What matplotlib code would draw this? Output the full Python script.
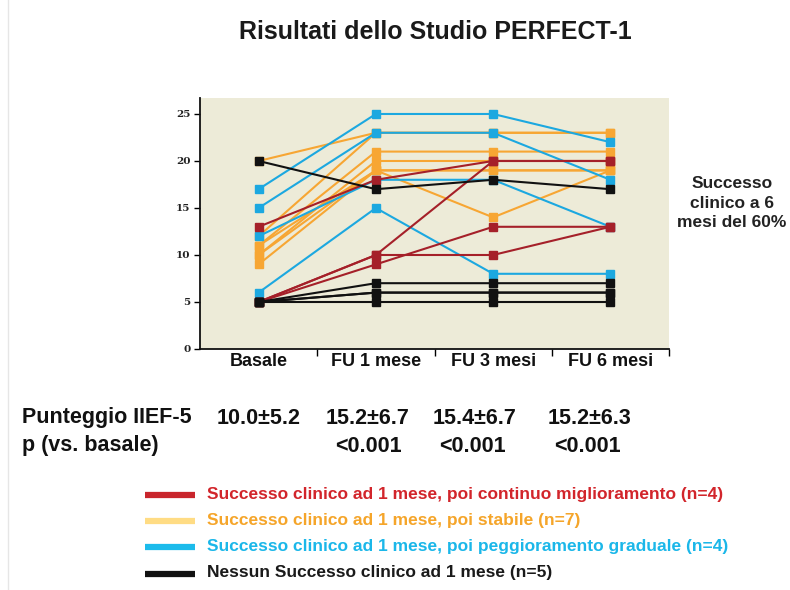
import matplotlib
matplotlib.use("Agg")
import matplotlib.pyplot as plt
from matplotlib.lines import Line2D

W, H = 790, 590

categories = ["Basale", "FU 1 mese", "FU 3 mesi", "FU 6 mesi"]
yticks = [0, 5, 10, 15, 20, 25]

red_series = [[13, 18, 20, 20], [5, 10, 20, 20], [5, 9, 13, 13], [5, 10, 10, 13]]
orange_series = [[20, 23, 23, 23], [11, 21, 21, 21], [10, 20, 20, 20], [10, 19, 19, 19],
                 [9, 19, 14, 19], [12, 23, 23, 23], [11, 19, 19, 19]]
blue_series = [[17, 25, 25, 22], [15, 23, 23, 18], [12, 18, 18, 13], [6, 15, 8, 8]]
black_series = [[20, 17, 18, 17], [5, 7, 7, 7], [5, 6, 6, 6], [5, 5, 5, 5], [5, 6, 6, 6]]

score_row_label = "Punteggio IIEF-5"
score_values = ["10.0±5.2", "15.2±6.7", "15.4±6.7", "15.2±6.3"]
p_row_label = "p (vs. basale)"
p_values = ["", "<0.001", "<0.001", "<0.001"]

legend_labels = [
    "Successo clinico ad 1 mese, poi continuo miglioramento (n=4)",
    "Successo clinico ad 1 mese, poi stabile (n=7)",
    "Successo clinico ad 1 mese, poi peggioramento graduale (n=4)",
    "Nessun Successo clinico ad 1 mese (n=5)",
]

title = "Risultati dello Studio PERFECT-1"
side_note = "Successo\nclinico a 6\nmesi del 60%"

plot_colors = ["#A52029", "#F7A633", "#1CA8E0", "#111111"]
legend_line_colors = ["#C9252C", "#FFDC84", "#1CBBEB", "#111111"]
legend_text_colors = ["#D2252B", "#F5A52A", "#1BB7E9", "#1A1A1A"]

SANS = ["Liberation Sans", "DejaVu Sans"]


def fx(x):
    return x / W


def fy(y):
    return 1 - y / H


fig = plt.figure(figsize=(W / 100, H / 100), dpi=100)
fig.patch.set_facecolor("white")

ax = fig.add_axes([fx(200), fy(349), (669 - 200) / W, (349 - 98) / H])
ax.set_facecolor("#EDEBD8")
ax.set_xlim(-0.5, 3.5)
ax.set_ylim(0, 26.7)
for s in ["top", "right"]:
    ax.spines[s].set_visible(False)
for s in ["left", "bottom"]:
    ax.spines[s].set_linewidth(1.3)
    ax.spines[s].set_color("#111111")

xs = list(range(len(categories)))
groups = [orange_series, blue_series, red_series, black_series]
group_colors = [plot_colors[1], plot_colors[2], plot_colors[0], plot_colors[3]]
for series, col in zip(groups, group_colors):
    for vals in series:
        ax.plot(xs, vals, color=col, lw=1.5, marker="s", ms=5.5,
                mec=col, mfc=col, solid_joinstyle="round", zorder=3)

ax.set_yticks(yticks)
ax.set_yticklabels([str(v) for v in yticks], fontsize=7.5, family="DejaVu Serif",
                   fontweight="bold", color="#222222")
ax.tick_params(axis="y", length=4, width=1, direction="out", pad=3)

ax.set_xticks([0.5, 1.5, 2.5, 3.5])
ax.set_xticklabels([])
ax.tick_params(axis="x", which="major", length=5, width=1, direction="out")
ax.set_xticks(xs, minor=True)
ax.set_xticklabels(categories, minor=True, fontsize=13, fontweight="bold",
                   family=SANS, color="#111111")
ax.tick_params(axis="x", which="minor", length=0, pad=3)

fig.text(fx(435), fy(32), title, ha="center", va="center", fontsize=18,
         fontweight="bold", family=SANS, color="#1A1A1A")

fig.text(fx(732), fy(203), side_note, ha="center", va="center", fontsize=12.5,
         fontweight="bold", family=SANS, color="#222222", linespacing=1.4)

fig.text(fx(22), fy(418), score_row_label, ha="left", va="center", fontsize=15.5,
         fontweight="bold", family=SANS, color="#111111")
fig.text(fx(22), fy(446), p_row_label, ha="left", va="center", fontsize=15.5,
         fontweight="bold", family=SANS, color="#111111")
score_cx = [258.5, 367.5, 475, 589.5]
p_cx = [368, 368, 472.5, 587.5]
for cx, sv in zip(score_cx, score_values):
    fig.text(fx(cx), fy(418), sv, ha="center", va="center", fontsize=15.5,
             fontweight="bold", family=SANS, color="#111111")
for cx, pv in zip(p_cx, p_values):
    if pv:
        fig.text(fx(cx), fy(446), pv, ha="center", va="center", fontsize=15.5,
                 fontweight="bold", family=SANS, color="#111111")

legend_y = [494, 520, 546, 573]
for yy, lab, lc, tc in zip(legend_y, legend_labels, legend_line_colors, legend_text_colors):
    fig.add_artist(Line2D([fx(145), fx(195)], [fy(yy + 1), fy(yy + 1)], lw=4.5,
                          color=lc, transform=fig.transFigure, solid_capstyle="butt"))
    fig.text(fx(207), fy(yy), lab, ha="left", va="center", fontsize=12.5,
             fontweight="bold", family=SANS, color=tc)

fig.add_artist(Line2D([fx(8), fx(8)], [0, 1], lw=1, color="#E6E6E6",
                      transform=fig.transFigure))

fig.savefig("out.png", dpi=100)
